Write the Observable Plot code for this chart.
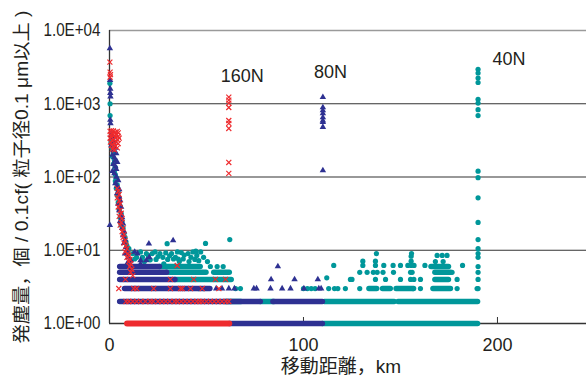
<!DOCTYPE html>
<html><head><meta charset="utf-8">
<script src="https://cdn.jsdelivr.net/npm/d3@7"></script>
<script src="https://cdn.jsdelivr.net/npm/@observablehq/plot@0.6"></script>
<style>body{margin:0;background:#fff}</style>
</head><body><div id="chart"></div>
<script>
// ---- tick labels / titles ----
const xTicks = [0, 100, 200];
const yTicks = [1, 10, 100, 1000, 10000];
const yTickLabels = ["1.0E+00", "1.0E+01", "1.0E+02", "1.0E+03", "1.0E+04"];
const gridValues = [10, 100, 1000];
const xTitle = "移動距離，km";
const yTitle = "発塵量，個 / 0.1cf( 粒子径0.1 μm以上 )";
const seriesLabels = [["160N", 68.4, 2360], ["80N", 113.9, 2710], ["40N", 205.9, 3990]];

// ---- 40N (teal circles) : dense runs [x1, x2, value] and points [x, value] ----
const runs40N = [[110, 190, 1], [60, 68, 2], [78, 85, 2], [111, 147, 2], [149, 190, 2],
  [134, 138, 3], [141, 145, 3], [148, 157, 3], [167, 176, 3],
  [34, 63, 4], [168, 175, 4], [29.7, 50, 5], [54, 62, 5], [168, 176, 5], [26, 47, 6], [166, 175, 6]];
const points40N = [
  [0.2, 1900], [0.3, 1000], [0.3, 690], [0.8, 300], [1, 260], [1.5, 240], [2, 210], [1.5, 190], [2.5, 170], [2, 150],
  [3, 135], [2.5, 118], [3, 108], [3.5, 98], [3, 88], [4, 78], [3.5, 70], [4.5, 62], [4, 56], [5, 50], [4.5, 45],
  [5.5, 40], [5, 36], [6, 32], [5.5, 28], [6.5, 25], [6, 22], [7, 20], [7.5, 17], [8, 15], [8.5, 13], [9, 11.5],
  [10, 10.5], [9.5, 9.5],
  [12, 9], [14, 8], [16, 9.5], [18, 7], [20, 8.5], [22, 9], [24, 7.5], [26, 9], [27.5, 8], [28, 6.5], [32, 9], [34, 8],
  [35, 9.5], [36, 7], [40.5, 9], [42, 8], [43, 9.5], [44, 7.5], [45, 8.5], [13, 7.6], [17, 8], [21, 7.4], [25, 8.2],
  [38, 7.6], [41, 7], [46, 7.2], [52, 6], [55.5, 6], [58.6, 6], [47, 9.5], [30, 7.5], [33, 7.6], [35.5, 7.6],
  [19, 9], [23.5, 9.5], [29, 9.2], [38.5, 8.6], [44.5, 9.7], [31, 8.4], [37, 9.3], [48.5, 8], [50.5, 7],
  [29.7, 12.3], [49.5, 12.4], [62, 14],
  [46, 3], [48.5, 3], [65, 3], [67.5, 3], [100, 3], [102, 3], [104, 3], [106, 3], [113, 3], [116, 3],
  [117.7, 3], [121.6, 3], [129, 3], [156.5, 3], [160.3, 3], [179.2, 3], [189.5, 3],
  [112, 4.2], [124.2, 4], [125, 4], [137.1, 4], [142.3, 4], [150, 4], [155.2, 4], [156.9, 4], [160.3, 4], [179.2, 4],
  [129, 5], [132.8, 5], [136, 5], [138, 5], [141, 5], [146.4, 5], [155.2, 5], [156, 5], [176.6, 5],
  [115.6, 6.2], [130.6, 6.2], [137.1, 6.2], [141.4, 6.2], [146.2, 6.2], [150, 6.2], [153.8, 6.2], [155.5, 6.2],
  [157, 6.2], [162.6, 6.2], [182, 6.2],
  [130.6, 7.1], [137.1, 7.1], [155.5, 7.1], [168, 7], [172, 7], [155.5, 8.3], [137.6, 9], [155.7, 9],
  [168.9, 8.5], [171.5, 8.5], [174, 8.5],
  [190, 2950], [190, 2630], [190, 2240], [190, 1950], [190, 1150], [190, 1020], [190, 830], [190, 690],
  [190, 120], [190, 98], [190, 52], [190, 24], [190, 14], [190, 10.5], [190, 9], [190, 8], [190, 6], [190, 5],
  [190, 4], [190, 3]];

// ---- 80N (blue triangles) ----
const runs80N = [[62, 110, 1], [5.5, 78, 2], [84.5, 110, 2], [8, 52, 3], [5.5, 34, 4], [5.5, 29.7, 5], [5.5, 26, 6]];
const points80N = [
  [0.2, 5700], [0.3, 2100], [0.4, 1600], [0.4, 1400], [0.5, 1250], [0.4, 600], [0.5, 540], [1, 380], [1.5, 340],
  [2, 300], [1, 270], [3, 250], [2, 230], [3.5, 210], [1.5, 200], [2.5, 185], [3, 170], [4, 160], [2, 150], [3, 140],
  [3.5, 128], [1.5, 120], [2.5, 112], [3.5, 100], [4.5, 90], [3, 82], [4, 75], [5, 68], [4, 60], [5, 54], [5.5, 48],
  [4.5, 43], [6, 39], [5, 35], [6, 31], [6.5, 28], [5.5, 25], [7, 23], [6.5, 20], [7.5, 18], [7, 16], [8, 14],
  [7.5, 12.5], [8.5, 11], [9, 10], [8, 9], [9.5, 8], [10, 7], [9, 6.5], [10.5, 6], [11, 5.5],
  [9.3, 9], [11, 7.3], [13, 9.5], [14.4, 9], [16, 7.3], [19, 7.3], [20.5, 8], [16, 6.5],
  [20.3, 12.3], [32.8, 13.6], [0.2, 22],
  [55, 3], [58, 3], [61.5, 3], [64.4, 3], [74.4, 3], [75.8, 3], [83, 3], [89, 3], [93.3, 3], [100.2, 3], [107.9, 3], [109.1, 3],
  [83.3, 4], [95.4, 4], [107.4, 4], [86.8, 6],
  [110, 1230], [110, 890], [110, 810], [110, 740], [110, 650], [110, 590], [110, 560], [110, 480], [110, 123]];

// ---- 160N (red crosses) ----
const runs160N = [[9.3, 62, 1]];
const points160N = [
  [0.2, 3700], [0.3, 2700], [0.5, 2500], [0.3, 2300],
  [0.3, 420], [1, 430], [2, 425], [3, 410], [4, 420], [4.5, 400], [0.5, 380], [1.5, 390], [2.5, 370], [3.5, 380],
  [4.5, 360], [0.3, 340], [1, 350], [2, 330], [3, 345], [4, 325], [5, 340], [0.5, 300], [1.5, 310], [2.5, 290],
  [3.5, 300], [4.5, 285], [1, 270], [2, 260], [3, 265], [4, 250], [1.5, 240], [2.5, 235],
  [4, 70], [4.5, 64], [5, 58], [4, 52], [5, 47], [5.5, 43], [4.5, 39], [5.5, 35], [6, 32], [5, 29], [6.5, 27], [6, 24],
  [5.5, 22], [7, 20], [6.5, 18], [7.5, 16.5], [7, 15], [8, 13.5], [7.5, 12.5], [8.5, 11.5], [9, 10.5], [8, 9.5],
  [9.5, 9], [10, 8.5], [9, 8], [10.5, 7.5], [10, 7], [11, 6.5], [10.5, 6], [11.5, 5.5], [11, 5], [12, 4.5], [34.9, 6.2],
  [8.5, 2], [10, 2], [12, 2], [14, 2], [16, 2], [18.5, 2], [21, 2], [22.5, 2], [25, 2], [27, 2], [29, 2], [31, 2],
  [33.5, 2], [35, 2], [37, 2], [39, 2], [41, 2], [43, 2], [45, 2], [46.5, 2], [48, 2], [50, 2], [52, 2], [54, 2],
  [56, 2], [58, 2], [60, 2], [61.5, 2],
  [4.8, 3], [12.5, 3], [14, 3], [22.8, 3], [31.4, 3], [36.6, 3], [37.5, 3], [41.8, 3], [47.8, 3], [56.4, 3],
  [8.2, 4], [31.4, 4], [43.4, 4], [54.6, 4], [59.8, 4],
  [61.5, 1230], [61.5, 1120], [61.5, 1020], [61.5, 890], [61.5, 590], [61.5, 540], [61.5, 460], [61.5, 158], [61.5, 112]];

const TEAL = "#00979a", BLUE = "#2e3192", RED = "#ee2b2e", INK = "#231f20";
const font = "'Liberation Sans', Arial, 'Noto Sans CJK JP', sans-serif";

const chart = Plot.plot({
  width: 586, height: 377,
  marginLeft: 109, marginRight: 0, marginTop: 30, marginBottom: 54,
  x: {domain: [0, 245.9]},
  y: {type: "log", domain: [1, 10000]},
  style: {fontFamily: font, fontSize: "18px", color: INK, background: "#fff", overflow: "visible"},
  marks: [
    Plot.ruleY(gridValues, {stroke: "#333", strokeWidth: 1.1}),
    Plot.ruleY([10000], {stroke: "#9a9a9a", strokeWidth: 1.3}),
    Plot.ruleX([0], {stroke: "#333", strokeWidth: 1.3}),
    Plot.ruleY([1], {stroke: "#333", strokeWidth: 1.3}),
    Plot.ruleX(xTicks, {stroke: "#333", insetTop: 287}),
    Plot.axisX(xTicks, {tickSize: 0, tickPadding: 15, label: null, fontSize: 18}),
    Plot.axisY(yTicks, {tickSize: 0, tickPadding: 9, label: null, fontSize: 18,
      tickFormat: d => yTickLabels[yTicks.indexOf(d)]}),
    Plot.text([xTitle], {text: d => d, frameAnchor: "bottom", lineAnchor: "middle", textAnchor: "middle",
      dx: -7, dy: 43, fontSize: 19, fill: INK}),
    Plot.text([yTitle], {text: d => d, frameAnchor: "left", rotate: -90, textAnchor: "middle", lineAnchor: "middle",
      dx: -87, fontSize: 18, fill: INK}),
    // 40N
    Plot.ruleY(runs40N, {y: d => d[2], x1: d => d[0], x2: d => d[1], stroke: TEAL, strokeWidth: 5.5, strokeLinecap: "round"}),
    Plot.dot(points40N, {x: d => d[0], y: d => d[1], r: 2.6, fill: TEAL}),
    // 80N
    Plot.ruleY(runs80N, {y: d => d[2], x1: d => d[0], x2: d => d[1], stroke: BLUE, strokeWidth: 5.5, strokeLinecap: "round"}),
    Plot.dot(points80N, {x: d => d[0], y: d => d[1], r: 2.4, symbol: "triangle", fill: BLUE}),
    // 160N
    Plot.ruleY(runs160N, {y: d => d[2], x1: d => d[0], x2: d => d[1], stroke: RED, strokeWidth: 6, strokeLinecap: "round"}),
    Plot.dot(points160N, {x: d => d[0], y: d => d[1], r: 2.4, symbol: "times", stroke: RED, strokeWidth: 1.2}),
    Plot.text(seriesLabels, {x: d => d[1], y: d => d[2], text: d => d[0], fontSize: 18, fill: INK})
  ]
});
d3.select(chart).selectAll('g[aria-label="y-axis tick label"] text')
  .attr("textLength", 57).attr("lengthAdjust", "spacingAndGlyphs");
d3.select(chart).selectAll("text").filter(function () { return this.textContent === yTitle; })
  .attr("textLength", 333).attr("lengthAdjust", "spacingAndGlyphs");
document.getElementById("chart").appendChild(chart);
</script>
</body></html>
